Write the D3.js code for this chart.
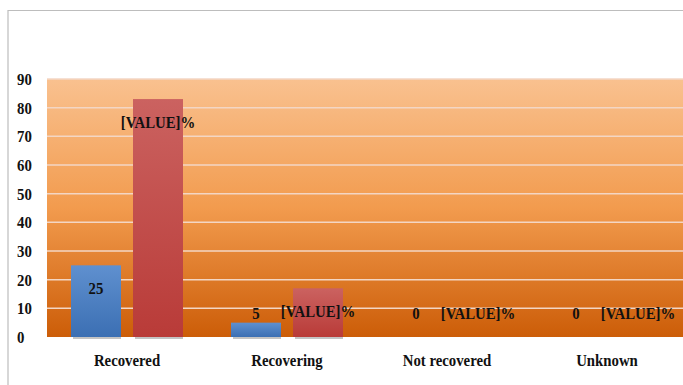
<!DOCTYPE html>
<html>
<head>
<meta charset="utf-8">
<script src="https://cdn.jsdelivr.net/npm/d3@7"></script>
<style>
  body { margin: 0; background: #fff; }
  svg { display: block; }
  text { font-family: "Liberation Serif", "Times New Roman", serif; font-weight: bold; fill: #111; }
</style>
</head>
<body>
<script>
const categories = ["Recovered", "Recovering", "Not recovered", "Unknown"];
const countValues = [25, 5, 0, 0];
const percentValues = [83, 17, 0, 0];
const percentLabels = ["[VALUE]%", "[VALUE]%", "[VALUE]%", "[VALUE]%"];
const yTicks = [0, 10, 20, 30, 40, 50, 60, 70, 80, 90];

const width = 683, height = 385;
const margin = {top: 79, left: 47, bottom: 337};
const fontSize = 17, squeeze = 0.87;

const svg = d3.select("body").append("svg")
    .attr("width", width)
    .attr("height", height);

const defs = svg.append("defs");

const bg = defs.append("linearGradient").attr("id", "bg")
    .attr("x1", 0).attr("y1", 0).attr("x2", 0).attr("y2", 1);
bg.append("stop").attr("offset", "0%").attr("stop-color", "#f9c18f");
bg.append("stop").attr("offset", "50%").attr("stop-color", "#f29b4e");
bg.append("stop").attr("offset", "100%").attr("stop-color", "#cc5d08");

const blue = defs.append("linearGradient").attr("id", "blue")
    .attr("x1", 0).attr("y1", 0).attr("x2", 0).attr("y2", 1);
blue.append("stop").attr("offset", "0%").attr("stop-color", "#5f90cf");
blue.append("stop").attr("offset", "100%").attr("stop-color", "#3b6fb3");

const red = defs.append("linearGradient").attr("id", "red")
    .attr("x1", 0).attr("y1", 0).attr("x2", 0).attr("y2", 1);
red.append("stop").attr("offset", "0%").attr("stop-color", "#cb6260");
red.append("stop").attr("offset", "100%").attr("stop-color", "#b93b38");

// outer frame
svg.append("path")
    .attr("d", `M8,${height} V10.5 H${width}`)
    .attr("fill", "none")
    .attr("stroke", "#bdbdbd")
    .attr("stroke-width", 1.2);

const x = d3.scaleBand()
    .domain(categories)
    .range([margin.left, margin.left + 640]);

const y = d3.scaleLinear()
    .domain([0, 90])
    .range([margin.bottom, margin.top]);

// text is drawn a bit narrower than the font, like the original
const place = (tx, ty) => `translate(${tx},${ty}) scale(${squeeze},1)`;

// plot background
svg.append("rect")
    .attr("x", x.range()[0])
    .attr("y", y(90))
    .attr("width", x.range()[1] - x.range()[0])
    .attr("height", y(0) - y(90))
    .attr("fill", "url(#bg)");

// gridlines
svg.append("g")
  .selectAll("line")
  .data(yTicks.filter(d => d > 0))
  .join("line")
    .attr("x1", x.range()[0])
    .attr("x2", x.range()[1])
    .attr("y1", d => y(d))
    .attr("y2", d => y(d))
    .attr("stroke", "#f3d6c4")
    .attr("stroke-width", 1.5);

// y tick labels
svg.append("g")
  .selectAll("text")
  .data(yTicks)
  .join("text")
    .attr("transform", d => place(17, y(d) + 6))
    .attr("font-size", fontSize)
    .text(d => d);

const barW = 50, gap = 12;

const groups = svg.append("g")
  .selectAll("g")
  .data(categories)
  .join("g")
    .attr("transform", d => `translate(${x(d) + x.bandwidth() / 2},0)`);

// bar shadows
groups.each(function (d, i) {
  const g = d3.select(this);
  [[-gap / 2 - barW, countValues[i]], [gap / 2, percentValues[i]]].forEach(([bx, v]) => {
    if (v > 0) {
      g.append("rect")
          .attr("x", bx + 2)
          .attr("y", y(0))
          .attr("width", barW - 2)
          .attr("height", 2)
          .attr("fill", "#8a8a8a")
          .attr("opacity", 0.5);
    }
  });
});

groups.append("rect")
    .attr("x", -gap / 2 - barW)
    .attr("y", (d, i) => y(countValues[i]))
    .attr("width", barW)
    .attr("height", (d, i) => y(0) - y(countValues[i]))
    .attr("fill", "url(#blue)");

groups.append("rect")
    .attr("x", gap / 2)
    .attr("y", (d, i) => y(percentValues[i]))
    .attr("width", barW)
    .attr("height", (d, i) => y(0) - y(percentValues[i]))
    .attr("fill", "url(#red)");

// label position: inside end, but not lower than a fixed offset above the axis
const labelY = v => Math.min(y(v) + 23, y(0) - 24) + 6;

groups.append("text")
    .attr("transform", (d, i) => place(-gap / 2 - barW / 2, labelY(countValues[i])))
    .attr("text-anchor", "middle")
    .attr("font-size", fontSize)
    .text((d, i) => countValues[i]);

groups.append("text")
    .attr("transform", (d, i) => place(gap / 2 + barW / 2, labelY(percentValues[i])))
    .attr("text-anchor", "middle")
    .attr("font-size", fontSize)
    .text((d, i) => percentLabels[i]);

// category labels
groups.append("text")
    .attr("transform", place(0, 366))
    .attr("text-anchor", "middle")
    .attr("font-size", fontSize)
    .text(d => d);
</script>
</body>
</html>
